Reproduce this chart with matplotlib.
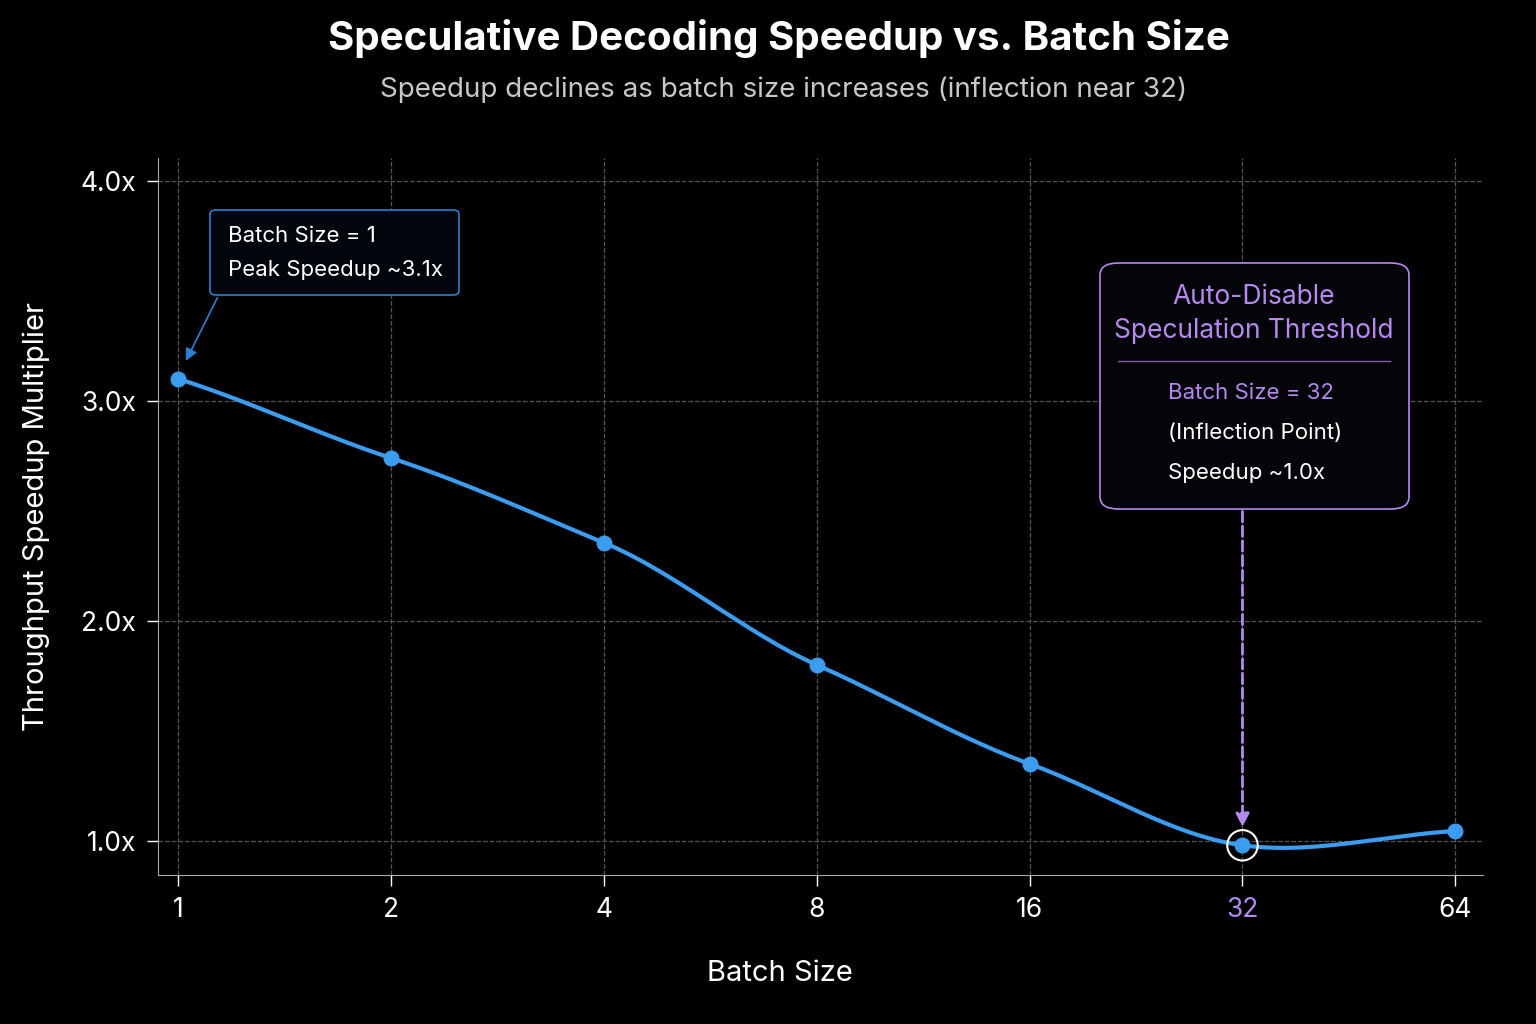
import numpy as np
import matplotlib
from matplotlib import pyplot as plt
from matplotlib.patches import FancyBboxPatch

plt.rcParams['font.family'] = ['Inter', 'DejaVu Sans']

batch_sizes = [1, 2, 4, 8, 16, 32, 64]
speedups = [3.10, 2.74, 2.355, 1.80, 1.35, 0.98, 1.045]
tick_labels = ['1', '2', '4', '8', '16', '32', '64']
y_ticks = [1.0, 2.0, 3.0, 4.0]

blue = '#3b9cf0'
purple = '#b48af0'

def main():
    fig = plt.figure(figsize=(15.36, 10.24), dpi=100, facecolor='black')
    ax = fig.add_axes([0.103, 0.1455, 0.8625, 0.7005], facecolor='black')

    x = np.log2(batch_sizes)
    # gently smoothed curve through the points
    xs, ys = [], []
    y = np.array(speedups)
    d = np.gradient(y, x)
    for i in range(len(x) - 1):
        t = np.linspace(0, 1, 30)
        h00 = 2*t**3 - 3*t**2 + 1
        h10 = t**3 - 2*t**2 + t
        h01 = -2*t**3 + 3*t**2
        h11 = t**3 - t**2
        dx = x[i+1] - x[i]
        xs.extend(x[i] + t*dx)
        ys.extend(h00*y[i] + h10*dx*d[i]*0.85 + h01*y[i+1] + h11*dx*d[i+1]*0.85)
    ax.plot(xs, ys, color=blue, lw=3, zorder=3)
    ax.scatter(x, y, color=blue, s=110, zorder=4)
    ax.scatter([x[5]], [y[5]], s=480, facecolors='none', edgecolors='white', lw=1.5, zorder=5)

    ax.set_xlim(-0.094, 6.13)
    ax.set_ylim(0.845, 4.105)
    ax.set_xticks(x)
    ax.set_xticklabels(tick_labels)
    ax.set_yticks(y_ticks)
    ax.set_yticklabels([f'{v:.1f}x' for v in y_ticks])
    ax.tick_params(colors='white', labelsize=19, length=8, width=1, pad=8)
    ax.get_xticklabels()[5].set_color(purple)
    ax.grid(True, color='#555555', ls='--', lw=0.9)
    for s in ['top', 'right']:
        ax.spines[s].set_visible(False)
    for s in ['bottom', 'left']:
        ax.spines[s].set_color('#aaaaaa')

    ax.set_xlabel('Batch Size', color='white', fontsize=21)
    ax.xaxis.set_label_coords(0.469, -0.118)
    ax.set_ylabel('Throughput Speedup Multiplier', color='white', fontsize=21, labelpad=22)

    fig.text(0.507, 0.962, 'Speculative Decoding Speedup vs. Batch Size', color='white',
             fontsize=29, fontweight='bold', ha='center', va='center')
    fig.text(0.51, 0.912, 'Speedup declines as batch size increases (inflection near 32)',
             color='#c8c8c8', fontsize=20, ha='center', va='center')

    # peak annotation
    fig.patches.append(FancyBboxPatch((210/1536, 1-295/1024), 249/1536, 85/1024,
                       boxstyle='round,pad=0,rounding_size=0.004', transform=fig.transFigure,
                       facecolor='#02060c', edgecolor='#2f7fd0', lw=1.2))
    fig.text(228/1536, 1-236/1024, 'Batch Size = 1', color='white', fontsize=16, va='center')
    fig.text(228/1536, 1-270/1024, 'Peak Speedup ~3.1x', color='white', fontsize=16, va='center')
    ax.annotate('', xy=(0.03, 3.17), xytext=(0.19, 3.48),
                arrowprops=dict(arrowstyle='-|>', color='#2f7fd0', lw=1.2, mutation_scale=18))

    # threshold annotation
    fig.patches.append(FancyBboxPatch((1100/1536, 1-509/1024), 309/1536, 246/1024,
                       boxstyle='round,pad=0,rounding_size=0.012', transform=fig.transFigure,
                       facecolor='#050408', edgecolor=purple, lw=1.2))
    fig.text(1254/1536, 1-297/1024, 'Auto-Disable', color=purple, fontsize=19, ha='center', va='center')
    fig.text(1254/1536, 1-331/1024, 'Speculation Threshold', color=purple, fontsize=19, ha='center', va='center')
    fig.add_artist(plt.Line2D([1118/1536, 1390/1536], [1-361/1024]*2, color='#7a5ca8', lw=1))
    fig.text(1168/1536, 1-393/1024, 'Batch Size = 32', color=purple, fontsize=16, va='center')
    fig.text(1168/1536, 1-433/1024, '(Inflection Point)', color='white', fontsize=16, va='center')
    fig.text(1168/1536, 1-473/1024, 'Speedup ~1.0x', color='white', fontsize=16, va='center')
    ax.annotate('', xy=(x[5], 1.05), xytext=(x[5], 2.51),
                arrowprops=dict(arrowstyle='-|>', color=purple, lw=2, ls='--', mutation_scale=20))

    fig.savefig('out.png', dpi=100, facecolor='black')

if __name__ == '__main__':
    main()
